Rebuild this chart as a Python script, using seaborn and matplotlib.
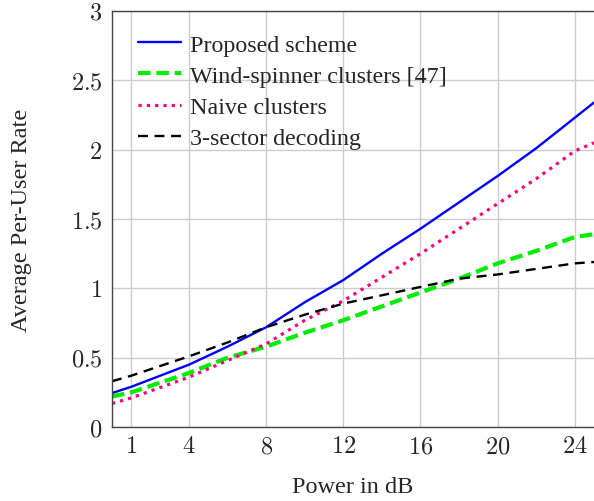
import pandas as pd
import matplotlib
matplotlib.use("Agg")
import matplotlib.pyplot as plt
import seaborn as sns

# Wartosci
power_db = [0, 1, 4, 6, 8, 10, 12, 14, 16, 18, 20, 22, 24, 25]
proposed = [0.245, 0.29, 0.45, 0.58, 0.72, 0.90, 1.06, 1.25, 1.43, 1.62, 1.81, 2.01, 2.23, 2.34]
wind_spinner = [0.22, 0.25, 0.39, 0.50, 0.58, 0.68, 0.77, 0.87, 0.97, 1.07, 1.18, 1.27, 1.37, 1.39]
naive = [0.17, 0.21, 0.36, 0.48, 0.60, 0.77, 0.91, 1.08, 1.25, 1.43, 1.61, 1.79, 1.99, 2.05]
sector3 = [0.33, 0.37, 0.51, 0.61, 0.72, 0.81, 0.89, 0.95, 1.01, 1.07, 1.10, 1.14, 1.18, 1.19]

x_ticks = [1, 4, 8, 12, 16, 20, 24]
y_ticks = [0, 0.5, 1, 1.5, 2, 2.5, 3]
y_labels = ["0", "0.5", "1", "1.5", "2", "2.5", "3"]

sns.set_style("whitegrid")
plt.rcParams["font.family"] = ["Liberation Serif", "DejaVu Serif"]
plt.rcParams["mathtext.fontset"] = "cm"

fig = plt.figure(figsize=(5.94, 5.02), dpi=100)
ax = fig.add_axes([0.1886, 0.1474, 0.8114, 0.8287])

series = [
    ("Proposed scheme", proposed, "#0000ff", "-", 1.7),
    ("Wind-spinner clusters [47]", wind_spinner, "#00ee00", (0, (3, 1.4)), 3.0),
    ("Naive clusters", naive, "#ff0080", (0, (1, 1.6)), 2.3),
    ("3-sector decoding", sector3, "black", (0, (4.2, 2.8)), 1.7),
]
for name, vals, col, ls, lw in series:
    df = pd.DataFrame({"x": power_db, "y": vals})
    sns.lineplot(data=df, x="x", y="y", ax=ax, color=col, linestyle=ls,
                 linewidth=lw, label=name)

ax.set_xlim(0, 25)
ax.set_ylim(0, 3)
ax.set_xticks(x_ticks)
ax.set_xticklabels([f"${t}$" for t in x_ticks])
ax.set_yticks(y_ticks)
ax.set_yticklabels([f"${t}$" for t in y_labels])
ax.tick_params(axis="both", labelsize=17.5, direction="in", length=4, color="#555555")
ax.tick_params(axis="x", pad=6.5)
ax.tick_params(axis="y", pad=7)
ax.grid(True, color="#cccccc", linewidth=1)
for s in ax.spines.values():
    s.set_color("#444444")
    s.set_linewidth(1)
ax.spines["right"].set_visible(False)

ax.set_xlabel("Power in dB", fontsize=17.5)
ax.xaxis.set_label_coords(0.5, -0.118)
ax.set_ylabel("Average Per-User Rate", fontsize=17.5)
ax.yaxis.set_label_coords(-0.166, 0.5)

leg = ax.legend(loc="upper left", bbox_to_anchor=(0.054, 0.945), frameon=False,
                fontsize=17.3, handlelength=1.8, borderpad=0, borderaxespad=0,
                labelspacing=0.39, handletextpad=0.35)

fig.savefig("out.png", dpi=100)
